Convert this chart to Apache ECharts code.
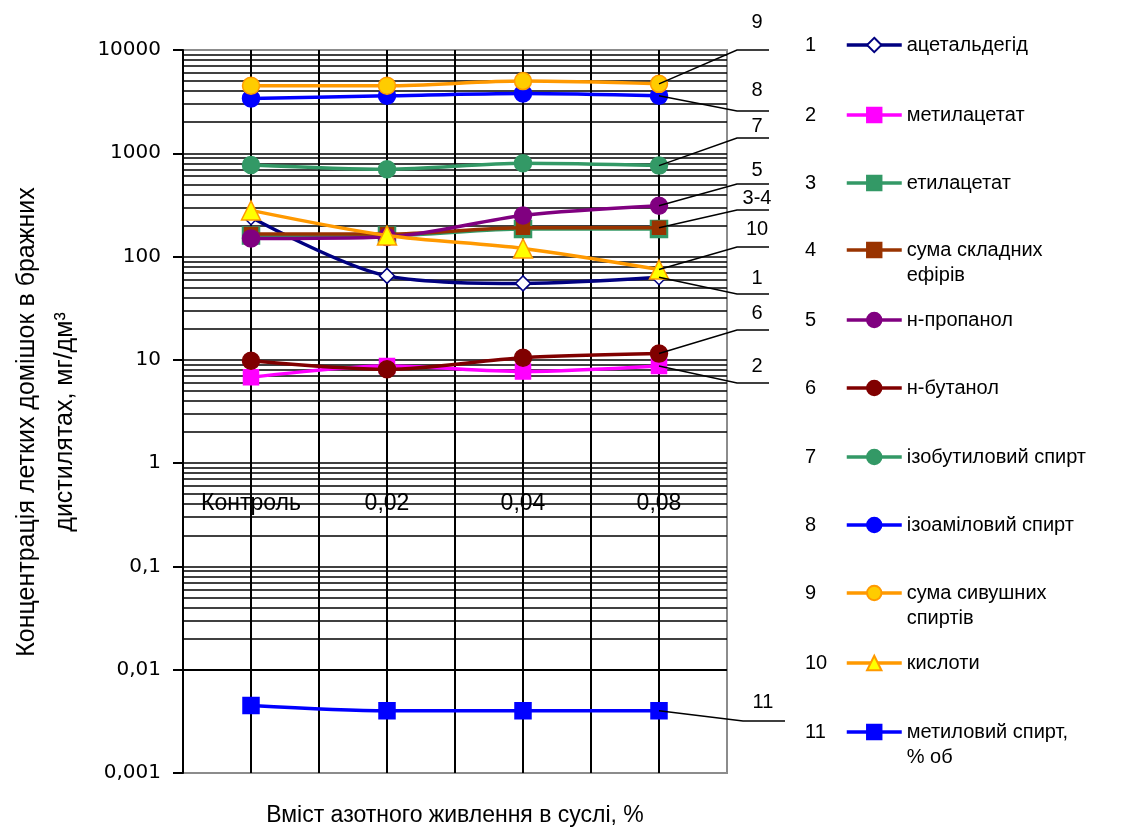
<!DOCTYPE html>
<html><head><meta charset="utf-8">
<script src="https://cdn.jsdelivr.net/npm/echarts@6/dist/echarts.min.js"></script>
<style>html,body{margin:0;padding:0;background:#fff}#c{width:1130px;height:828px}</style>
</head><body><div id="c"></div>
<script>
// ---- data ----
const categories = ['Контроль', '0,02', '0,04', '0,08'];
const seriesNames = ['ацетальдегід', 'метилацетат', 'етилацетат', 'сума складних\nефірів',
  'н-пропанол', 'н-бутанол', 'ізобутиловий спирт', 'ізоаміловий спирт',
  'сума сивушних\nспиртів', 'кислоти', 'метиловий спирт,\n% об'];
const acetaldehyde  = [240, 65, 55, 63];
const methylAcetate = [6.8, 8.7, 7.7, 8.7];
const ethylAcetate  = [160, 160, 185, 185];
const esterSum      = [165, 165, 190, 190];
const nPropanol     = [150, 155, 250, 310];
const nButanol      = [9.8, 8.1, 10.5, 11.5];
const isobutanol    = [770, 700, 800, 760];
const isoamyl       = [3400, 3600, 3800, 3600];
const fuselSum      = [4500, 4500, 5000, 4700];
const acids         = [280, 160, 120, 75];
const methanol      = [0.0045, 0.004, 0.004, 0.004];
const allData = [acetaldehyde, methylAcetate, ethylAcetate, esterSum, nPropanol, nButanol,
  isobutanol, isoamyl, fuselSum, acids, methanol];
const legendNumbers = ['1','2','3','4','5','6','7','8','9','10','11'];
const annoLabels = ['9', '8', '7', '5', '3-4', '10', '1', '6', '2', '11'];
const annoSeries = [8, 7, 6, 4, 3, 9, 0, 5, 1, 10];

// ---- styles / layout ----
const styles = [
  {color:'#000080', symbol:'diamond', size:15, fill:'#ffffff'},
  {color:'#ff00ff', symbol:'rect', size:15, fill:'#ff00ff'},
  {color:'#339966', symbol:'rect', size:17, fill:'#339966'},
  {color:'#993300', symbol:'rect', size:13, fill:'#993300'},
  {color:'#800080', symbol:'circle', size:17, fill:'#800080'},
  {color:'#800000', symbol:'circle', size:17, fill:'#800000'},
  {color:'#339966', symbol:'circle', size:17, fill:'#339966'},
  {color:'#0000ff', symbol:'circle', size:17, fill:'#0000ff'},
  {color:'#ff9900', symbol:'circle', size:17, fill:'#ffcc00'},
  {color:'#ff9900', symbol:'triangle', size:19, fill:'#ffff00'},
  {color:'#0000ff', symbol:'rect', size:16, fill:'#0000ff'}
];
const legendCenters = [45, 115, 183, 250, 320, 388, 457, 525, 593, 663, 732];
const annoLineY = [50, 111, 138, 184, 210, 247, 294, 330, 383, 721];
const annoTextY = [22, 90, 126, 170, 198, 229, 278, 313, 366, 702];

const minorVals = [];
for (let d = 0.001; d < 5000; d *= 10) for (let k = 2; k <= 9; k++) minorVals.push(+(d * k).toPrecision(3));

const FONT = 'Liberation Sans';
const chart = echarts.init(document.getElementById('c'), null, {renderer: 'canvas'});

const series = allData.map((d, i) => ({
  type: 'line', name: seriesNames[i], data: d,
  xAxisIndex: 0, yAxisIndex: 0,
  symbol: styles[i].symbol, symbolSize: styles[i].size,
  smooth: 0.3,
  lineStyle: {color: styles[i].color, width: 3.5},
  itemStyle: {color: styles[i].fill, borderColor: styles[i].color, borderWidth: 1.5},
  z: 3 + i
}));
series.unshift({
  type: 'line', name: '_grid', data: [], xAxisIndex: 0, yAxisIndex: 0, z: 1, silent: true,
  markLine: {silent: true, z: 1, symbol: ['none', 'none'], label: {show: false},
    lineStyle: {color: '#000', width: 1.5, type: 'solid'},
    emphasis: {disabled: true},
    data: minorVals.map(v => ({yAxis: v}))}
});

const legends = seriesNames.map((n, i) => {
  const multi = n.indexOf('\n') >= 0;
  return {
    data: [n], left: 845, top: multi ? legendCenters[i] - 37.5 : legendCenters[i] - 12.5,
    orient: 'vertical', padding: 0, itemWidth: 55, itemHeight: 18, selectedMode: false,
    lineStyle: {width: 3.5},
    formatter: nm => (nm.indexOf('\n') >= 0 ? ' \n' + nm : nm),
    textStyle: {fontFamily: FONT, fontSize: 20, color: '#000', lineHeight: 25}
  };
});

chart.setOption({
  animation: false,
  backgroundColor: '#fff',
  grid: {left: 183, right: 403, top: 50, bottom: 55, show: true, borderColor: '#8c8c8c', borderWidth: 2,
    containLabel: false, outerBoundsMode: 'none'},
  xAxis: [
    {type: 'category', data: categories, boundaryGap: true, position: 'bottom', offset: -310,
     axisLine: {show: false}, axisTick: {show: false},
     splitLine: {show: false},
     axisLabel: {margin: 29, fontFamily: FONT, fontSize: 23, color: '#000'}},
    {type: 'value', min: 0, max: 8, interval: 1, position: 'bottom',
     name: 'Вміст азотного живлення в суслі, %', nameLocation: 'middle', nameGap: 31,
     nameTextStyle: {fontFamily: FONT, fontSize: 23, color: '#000'},
     axisLine: {show: false}, axisTick: {show: false}, axisLabel: {show: false},
     splitLine: {show: true, showMinLine: false, showMaxLine: false, lineStyle: {color: '#000', width: 2}}}
  ],
  yAxis: {type: 'log', logBase: 10, min: 0.001, max: 10000, splitNumber: 7,
    axisLine: {show: true, lineStyle: {color: '#000', width: 2}},
    axisTick: {show: true, length: 10, inside: false, lineStyle: {color: '#000', width: 2}},
    splitLine: {show: true, showMinLine: false, showMaxLine: false, lineStyle: {color: '#000', width: 1.5}},
    axisLabel: {margin: 22, fontFamily: 'DejaVu Sans', fontSize: 20, color: '#000',
      formatter: v => String(v).replace('.', ',')}},
  legend: legends,
  series: series
});

// ---- annotations & texts ----
const graphics = [];
graphics.push({type: 'text', x: 46, y: 422, rotation: Math.PI / 2, silent: true,
  style: {text: 'Концентрація летких домішок в бражних\nдистилятах, мг/дм³', align: 'center', verticalAlign: 'middle',
    font: '25px "Liberation Sans Narrow", "Liberation Sans"', fill: '#000', lineHeight: 38}});
legendNumbers.forEach((t, i) => {
  graphics.push({type: 'text', x: 805, y: legendCenters[i], silent: true,
    style: {text: t, align: 'left', verticalAlign: 'middle', font: '20px "' + FONT + '"', fill: '#000'}});
});
annoLabels.forEach((t, k) => {
  const si = annoSeries[k];
  const d = allData[si];
  const p = chart.convertToPixel({seriesIndex: si + 1}, [d.length - 1, d[d.length - 1]]);
  const is11 = t === '11';
  const x1 = is11 ? 743 : 737, x2 = is11 ? 785 : 769;
  graphics.push({type: 'polyline', silent: true, z: 100,
    shape: {points: [[p[0], p[1]], [x1, annoLineY[k]], [x2, annoLineY[k]]]},
    style: {stroke: '#000', lineWidth: 1.5, fill: null}});
  graphics.push({type: 'text', x: is11 ? 763 : 757, y: annoTextY[k], silent: true,
    style: {text: t, align: 'center', verticalAlign: 'middle', font: '20px "' + FONT + '"', fill: '#000'}});
});
chart.setOption({graphic: graphics});
</script></body></html>
